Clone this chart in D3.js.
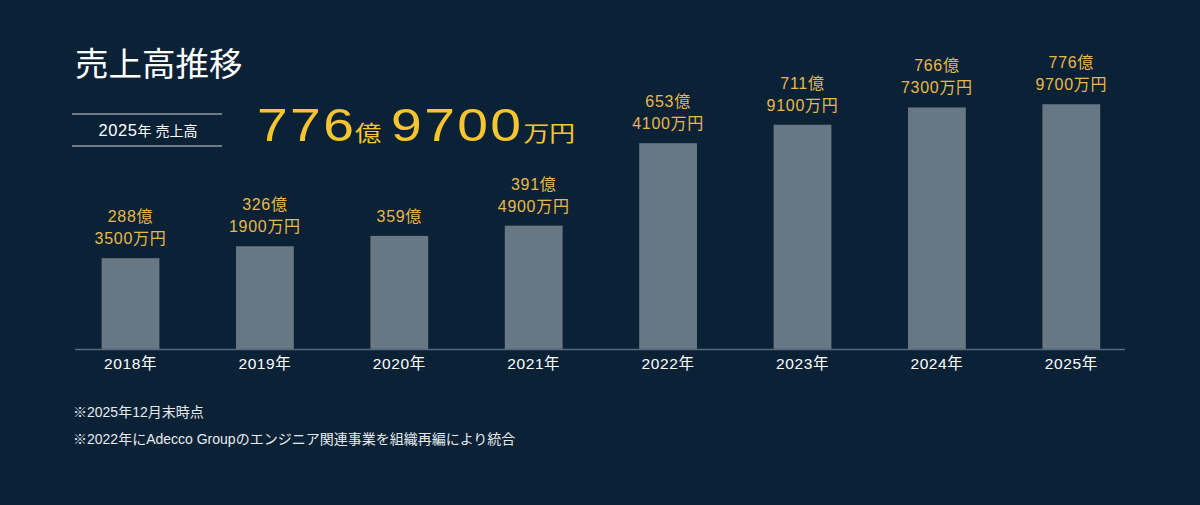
<!DOCTYPE html>
<html>
<head>
<meta charset="utf-8">
<script src="https://cdn.jsdelivr.net/npm/d3@7"></script>
<style>
  body { margin: 0; background: #0b2236; }
  svg { display: block; }
  text { font-family: "Liberation Sans", "Noto Sans CJK JP", sans-serif; }
</style>
</head>
<body>
<script>
// data
var years = ["2018年", "2019年", "2020年", "2021年", "2022年", "2023年", "2024年", "2025年"];
var okuValues = [288, 326, 359, 391, 653, 711, 766, 776];
var manValues = [3500, 1900, 0, 4900, 4100, 9100, 7300, 9700];
var notes = ["※2025年12月末時点", "※2022年にAdecco Groupのエンジニア関連事業を組織再編により統合"];

var width = 1200, height = 505;
var baseY = 349;

var rows = years.map(function(y, i) {
  return { year: y, oku: okuValues[i], man: manValues[i], value: okuValues[i] + manValues[i] / 10000 };
});

var svg = d3.select("body").append("svg")
            .attr("width", width)
            .attr("height", height);

svg.append("rect").attr("width", width).attr("height", height).attr("fill", "#0b2236");

// scales
var x = d3.scaleBand()
          .domain(years)
          .range([63.3, 1138.5])
          .paddingInner(0.57)
          .paddingOuter(0.285);

var y = d3.scaleLinear()
          .domain([0, 1000])
          .range([baseY, baseY - 315]);

// bars
svg.selectAll(".bar")
   .data(rows)
   .enter()
   .append("rect")
   .attr("class", "bar")
   .attr("x", function(d) { return x(d.year); })
   .attr("y", function(d) { return y(d.value); })
   .attr("width", x.bandwidth())
   .attr("height", function(d) { return baseY - y(d.value); })
   .attr("fill", "#677884");

// baseline
svg.append("line")
   .attr("x1", 75).attr("x2", 1125)
   .attr("y1", baseY + 0.5).attr("y2", baseY + 0.5)
   .attr("stroke", "#56697c")
   .attr("stroke-width", 1.5);

// x axis labels
var xAxis = d3.axisBottom(x).tickSize(0).tickPadding(9);
var gx = svg.append("g")
   .attr("transform", "translate(0," + baseY + ")")
   .call(xAxis);
gx.select(".domain").remove();
gx.selectAll("text")
  .attr("fill", "#ffffff")
  .style("font-family", "'Liberation Sans', 'Noto Sans CJK JP', sans-serif")
  .style("font-size", "15.5px")
  .style("letter-spacing", "0.6px");

// value labels
var lbl = svg.selectAll(".val")
   .data(rows)
   .enter()
   .append("text")
   .attr("class", "val")
   .attr("text-anchor", "middle")
   .attr("fill", "#e8b84a")
   .style("font-size", "16px")
   .style("letter-spacing", "0.7px")
   .attr("x", function(d) { return x(d.year) + x.bandwidth() / 2; })
   .attr("y", function(d) { return y(d.value) - 14; });

lbl.each(function(d) {
  var t = d3.select(this);
  if (d.man) {
    t.append("tspan").attr("x", t.attr("x")).attr("dy", "-22").text(d.oku + "億");
    t.append("tspan").attr("x", t.attr("x")).attr("dy", "22").text(d.man + "万円");
  } else {
    t.append("tspan").text(d.oku + "億");
  }
});

// title
svg.append("text")
   .attr("x", 75).attr("y", 76)
   .attr("fill", "#ffffff")
   .style("font-size", "33.5px")
   .text("売上高推移");

// headline box
svg.append("line").attr("x1", 72).attr("x2", 222).attr("y1", 114).attr("y2", 114)
   .attr("stroke", "#d0d6dc").attr("stroke-width", 1.2);
svg.append("line").attr("x1", 72).attr("x2", 222).attr("y1", 146).attr("y2", 146)
   .attr("stroke", "#d0d6dc").attr("stroke-width", 1.2);
var boxText = svg.append("text")
   .attr("x", 148).attr("y", 136)
   .attr("text-anchor", "middle")
   .attr("fill", "#ffffff");
boxText.append("tspan").style("font-size", "16.5px").style("letter-spacing", "0.6px").text("2025");
boxText.append("tspan").style("font-size", "14px").text("年 売上高");

// headline value, stretched a little to match the wide digits
var last = rows[rows.length - 1];
var big = svg.append("text")
   .attr("transform", "translate(257,141) scale(1.2,1)")
   .attr("fill", "#f7c530");
big.append("tspan").style("font-size", "46px").style("letter-spacing", "2px").text(last.oku);
big.append("tspan").style("font-size", "22px").attr("dx", "-1").text("億");
big.append("tspan").style("font-size", "46px").style("letter-spacing", "2px").attr("dx", "8").text(last.man);
big.append("tspan").style("font-size", "21.5px").attr("dx", "0").text("万円");

// notes
svg.selectAll(".note")
   .data(notes)
   .enter()
   .append("text")
   .attr("class", "note")
   .attr("x", 73)
   .attr("y", function(d, i) { return 417 + i * 26.5; })
   .attr("fill", "#e6eaee")
   .style("font-size", "14px")
   .text(function(d) { return d; });
</script>
</body>
</html>
